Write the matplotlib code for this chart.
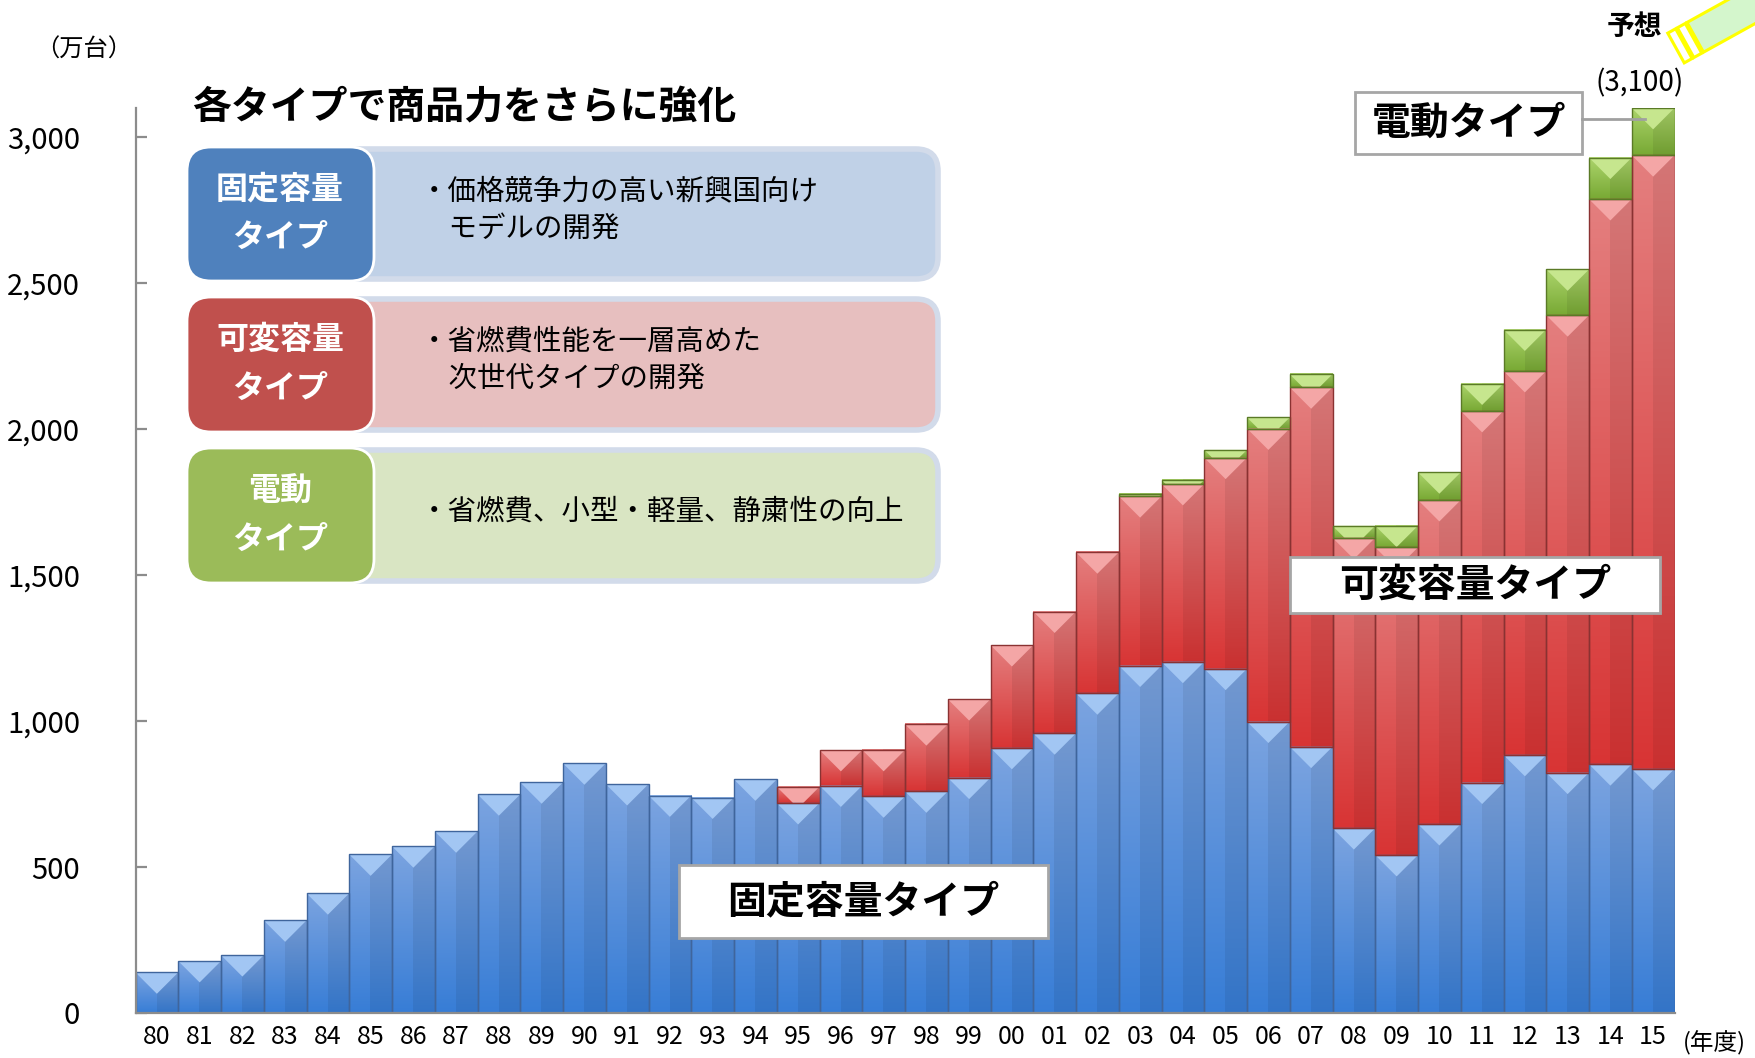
import numpy as np
import matplotlib.pyplot as plt
from matplotlib.patches import Rectangle, FancyBboxPatch, Polygon
from matplotlib.colors import to_rgb

plt.rcParams['font.family'] = ['Noto Sans CJK JP', 'DejaVu Sans']

# --- data (万台) ---
years = ['80', '81', '82', '83', '84', '85', '86', '87', '88', '89',
         '90', '91', '92', '93', '94', '95', '96', '97', '98', '99',
         '00', '01', '02', '03', '04', '05', '06', '07', '08', '09',
         '10', '11', '12', '13', '14', '15']
fixed = [139, 178, 198, 317, 410, 543, 571, 622, 749, 790,
         855, 784, 745, 738, 800, 719, 779, 742, 759, 806,
         908, 958, 1095, 1190, 1203, 1179, 998, 912, 633, 541,
         647, 789, 884, 823, 852, 836]
variable = [0, 0, 0, 0, 0, 0, 0, 0, 0, 0,
            0, 0, 0, 0, 0, 56, 122, 159, 230, 269,
            352, 417, 483, 580, 609, 723, 1004, 1231, 995, 1054,
            1110, 1273, 1315, 1567, 1936, 2102]
electric = [0, 0, 0, 0, 0, 0, 0, 0, 0, 0,
            0, 0, 0, 0, 0, 0, 0, 0, 0, 0,
            0, 0, 0, 8, 14, 27, 38, 45, 41, 74,
            95, 94, 142, 157, 142, 162]
yticks = [0, 500, 1000, 1500, 2000, 2500, 3000]
ytick_labels = ['0', '500', '1,000', '1,500', '2,000', '2,500', '3,000']

W, H = 1755, 1058
ax_box = [135.5, 45, 1539, 905]          # left, bottom, width, height in px
YMAX = 3100

fig = plt.figure(figsize=(W / 100, H / 100), dpi=100)
ax = fig.add_axes([ax_box[0] / W, ax_box[1] / H, ax_box[2] / W, ax_box[3] / H])

# bevel depth: half bar width (px) converted to data units
depth = (ax_box[2] / len(years) / 2) / (ax_box[3] / YMAX)

styles = {
    'fixed':    dict(top='#7ca4e0', bot='#377dd6', bevel='#a2c6f3', edge='#3f659c'),
    'variable': dict(top='#e47f7f', bot='#d83434', bevel='#f4a6a6', edge='#8a3232'),
    'electric': dict(top='#acd46c', bot='#78a934', bevel='#c6e68e', edge='#5a7a26'),
}


def draw_segment(x, y0, h, st):
    if h <= 0:
        return
    n = 256
    t = np.linspace(0, 1, n)[:, None]
    col = np.array(to_rgb(st['top'])) * (1 - t) + np.array(to_rgb(st['bot'])) * t
    img = np.stack([col, np.clip(col * 0.93, 0, 1)], axis=1)
    ax.imshow(img, extent=(x - 0.5, x + 0.5, y0, y0 + h), aspect='auto',
              interpolation='nearest', zorder=2)
    dd = min(depth, h)
    a = 0.5 * dd / depth
    top = y0 + h
    ax.fill([x - 0.5, x + 0.5, x + 0.5 - a, x - 0.5 + a],
            [top, top, top - dd, top - dd], color=st['bevel'], lw=0, zorder=3)
    ax.add_patch(Rectangle((x - 0.5, y0), 1, h, fill=False, ec=st['edge'],
                           lw=1.0, zorder=4))


xs = np.arange(len(years))
for i in xs:
    b = 0
    for vals, key in [(fixed, 'fixed'), (variable, 'variable'), (electric, 'electric')]:
        draw_segment(i, b, vals[i], styles[key])
        b += vals[i]

ax.set_xlim(-0.5, len(years) - 0.5)
ax.set_ylim(0, YMAX)
for s in ['top', 'right']:
    ax.spines[s].set_visible(False)
for s in ['left', 'bottom']:
    ax.spines[s].set_color('#8c8c8c')
    ax.spines[s].set_linewidth(1.6)
    ax.spines[s].set_zorder(5)

ax.set_yticks(yticks)
ax.set_yticklabels(ytick_labels)
ax.tick_params(axis='y', direction='in', length=8, width=1.6, color='#8c8c8c',
               labelsize=21, pad=40)
ax.set_xticks(xs)
ax.set_xticklabels(years)
ax.tick_params(axis='x', which='major', length=0, labelsize=18, pad=8)
ax.set_xticks(xs[:-1] + 0.5, minor=True)
ax.tick_params(axis='x', which='minor', direction='in', length=6, width=1.4,
               color='#9a9a9a')
for lab in ax.get_xticklabels() + ax.get_yticklabels():
    lab.set_zorder(6)

# --- overlay in pixel coordinates for annotations ---
ov = fig.add_axes([0, 0, 1, 1])
ov.set_xlim(0, W)
ov.set_ylim(H, 0)
ov.set_axis_off()

ov.text(84, 50, '（万台）', fontsize=17.5, ha='center', va='center')
ov.text(1683, 1043, '(年度)', fontsize=17, ha='left', va='center')
ov.text(192, 108, '各タイプで商品力をさらに強化', fontsize=28, fontweight='bold',
        ha='left', va='center')

rows = [
    ('固定容量\nタイプ', '・価格競争力の高い新興国向け\n　モデルの開発',
     '#4f81bd', '#c0d1e7', 147, 281),
    ('可変容量\nタイプ', '・省燃費性能を一層高めた\n　次世代タイプの開発',
     '#c0504d', '#e7bfbf', 297, 432),
    ('電動\nタイプ', '・省燃費、小型・軽量、静粛性の向上',
     '#9bbb59', '#d9e5c3', 448, 583),
]
for head, body, dark, light, y0, y1 in rows:
    ov.add_patch(FancyBboxPatch((330, y0 + 2), 608, y1 - y0 - 4,
                                boxstyle='round,pad=0,rounding_size=22',
                                fc=light, ec='#d2dbea', lw=4, zorder=1))
    ov.add_patch(FancyBboxPatch((187, y0), 187, y1 - y0,
                                boxstyle='round,pad=0,rounding_size=24',
                                fc=dark, ec='white', lw=2, zorder=2))
    ov.text(280, (y0 + y1) / 2, head, fontsize=23, fontweight='bold', color='white',
            ha='center', va='center', linespacing=1.65, zorder=3)
    ov.text(420, (y0 + y1) / 2 - 4, body, fontsize=20.5, ha='left', va='center',
            linespacing=1.3, zorder=3)

labels = [
    ('固定容量タイプ', 679, 865, 369, 73),
    ('可変容量タイプ', 1290, 557, 370, 56),
    ('電動タイプ', 1355, 92, 227, 62),
]
for txt, x0, y0, w, h in labels:
    ov.add_patch(Rectangle((x0, y0), w, h, fc='white', ec='#a6a6a6', lw=2, zorder=4))
    ov.text(x0 + w / 2, y0 + h / 2, txt, fontsize=28, fontweight='bold',
            ha='center', va='center', zorder=5)
ov.plot([1582, 1645], [119, 119], color='#a0a0a0', lw=2, zorder=4)

ov.text(1640, 83, '(3,100)', fontsize=20, ha='center', va='center')
ov.text(1634, 27, '予想', fontsize=20, fontweight='bold', ha='center', va='center')

# flashlight-like beam at the top right
d = np.array([0.875, -0.485])
p = np.array([0.485, 0.875])
c0 = np.array([1676, 48])
hw = 17


def quad(t0, t1):
    a, b = c0 + d * t0, c0 + d * t1
    return [a - p * hw, b - p * hw, b + p * hw, a + p * hw]


ov.add_patch(Polygon(quad(22, 130), closed=True, fc='#d4f6cc', ec='#ffff00', lw=2.2, zorder=3))
ov.add_patch(Polygon(quad(0, 9), closed=True, fc='white', ec='#ffff00', lw=2.2, zorder=3))
ov.add_patch(Polygon(quad(11, 20), closed=True, fc='white', ec='#ffff00', lw=2.2, zorder=3))

fig.savefig('out.png', dpi=100)
